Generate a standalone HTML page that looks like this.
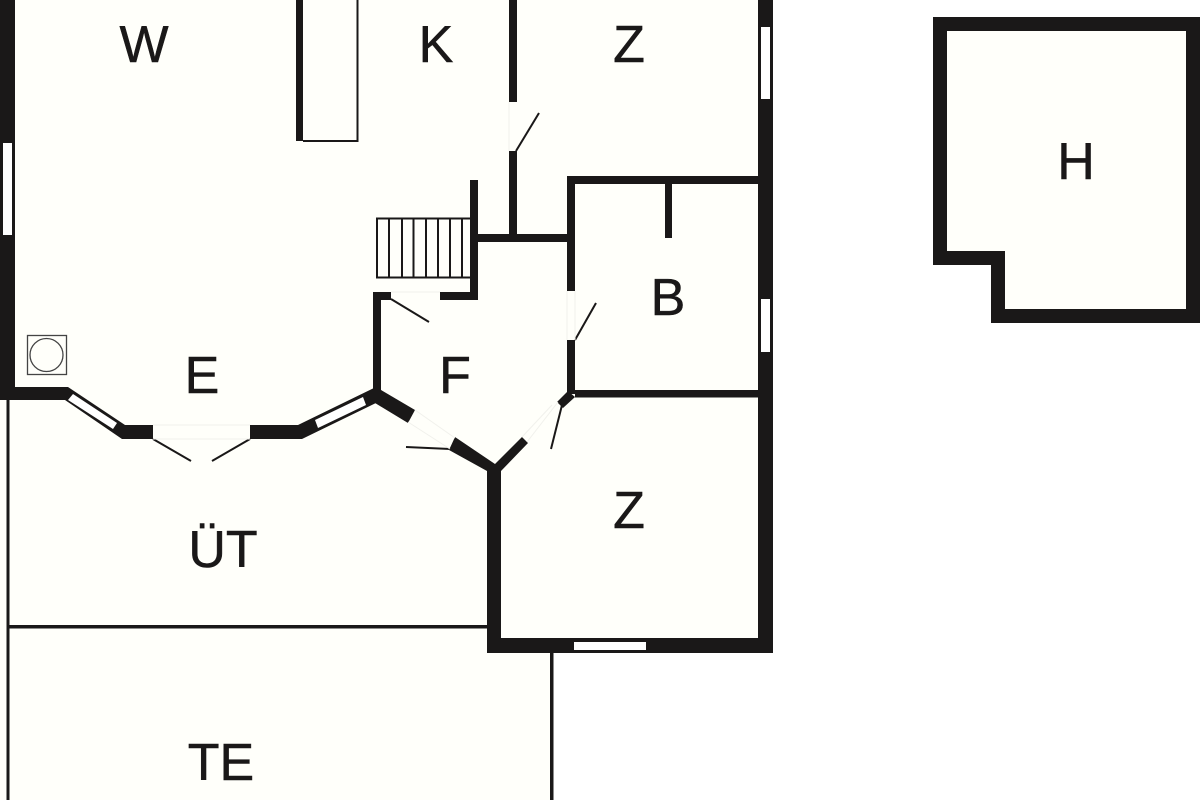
<!DOCTYPE html>
<html>
<head>
<meta charset="utf-8">
<style>
html,body{margin:0;padding:0;background:#fff}
svg{display:block}
text{font-family:"Liberation Sans",sans-serif;font-size:52px;fill:#1a1818;stroke:#1a1818;stroke-width:.5;text-anchor:middle}
</style>
</head>
<body>
<svg width="1200" height="800" viewBox="0 0 1200 800" xmlns="http://www.w3.org/2000/svg">
<rect width="1200" height="800" fill="#fff"/>
<polygon points="0,0 773,0 773,653 553,653 553,800 0,800" fill="#fffffa"/>
<polygon points="933,17 1200,17 1200,323 991,323 991,265 933,265" fill="#fffffa"/>

<g fill="#1a1818">
<rect x="0" y="0" width="15" height="400"/>
<polygon points="0,387 68,387 125,425 153,425 153,439 122,439 65,400 0,400"/>
<polygon points="250,425 298,425 376,387 381,392 378,402 302,439 250,439"/>
<polygon points="376,387 415,410 408,423 375,403"/>
<rect x="373" y="292" width="8" height="98"/>
<rect x="373" y="292" width="18" height="8"/>
<rect x="440" y="292" width="38" height="8"/>
<rect x="470" y="180" width="8" height="120"/>
<rect x="478" y="234" width="92" height="8"/>
<rect x="509" y="0" width="8" height="102"/>
<rect x="509" y="151" width="8" height="85"/>
<rect x="567" y="176" width="8" height="115"/>
<rect x="567" y="340" width="8" height="54"/>
<rect x="567" y="176" width="195" height="8"/>
<rect x="665" y="184" width="7" height="54"/>
<rect x="575" y="390" width="185" height="7.5"/>
<polygon points="557,402 568,391 575,397 563,408"/>
<rect x="758" y="0" width="15" height="653"/>
<rect x="487" y="467" width="14" height="186"/>
<rect x="487" y="638" width="286" height="15"/>
<polygon points="455,437 495,464 522,437 528,443 501,471 501,476 487,476 487,471 449,450"/>
<rect x="296" y="0" width="7" height="141"/>
<rect x="6.5" y="400" width="3" height="400"/>
<rect x="8" y="625" width="480" height="3.5"/>
<rect x="550" y="652" width="3.5" height="148"/>
<path fill-rule="evenodd" d="M933,17H1200V323H991V265H933ZM947,31V251H1005V309H1186V31Z"/>
</g>

<g fill="#fff">
<rect x="3" y="143" width="9" height="92"/>
<rect x="761" y="27" width="9" height="72"/>
<rect x="761" y="299" width="9" height="53"/>
<rect x="574" y="642" width="72" height="8"/>
<polygon points="73,394 117,423 113,429 68,400"/>
<polygon points="315,420 363,397 366,405 318,428"/>
</g>

<g fill="none" stroke="#1a1818" stroke-width="2">
<path d="M303,141H357.500V0"/>
<rect x="377" y="218.500" width="94" height="59"/>
<path d="M389,218V277M402,218V277M413.500,218V277M426,218V277M438,218V277M450,218V277M462,218V277"/>
</g>
<g fill="none" stroke="#444" stroke-width="1.300">
<rect x="27.500" y="335.500" width="39" height="39"/>
<circle cx="46.500" cy="355" r="16.500"/>
</g>

<g stroke="#1a1818" stroke-width="2" fill="none">
<path d="M153,439L191,461M250,439L212,461"/>
<path d="M391,299L429,322"/>
<path d="M516,151L539,113"/>
<path d="M575,340L596,303"/>
<path d="M562,405L551,449"/>
<path d="M406,447L450,449"/>
</g>
<g stroke="#f1f1ec" stroke-width="1" fill="none">
<path d="M153,425H250M153,439H250"/>
<path d="M391,292H440"/>
<path d="M509,102V151"/>
<path d="M567,291V340M575,291V340"/>
<path d="M415,410L455,438M408,422L450,449"/>
<path d="M527,442L558,402M522,437L552,405"/>
</g>

<text x="144" y="62">W</text>
<text x="436" y="62">K</text>
<text x="629" y="62">Z</text>
<text x="1076" y="179">H</text>
<text x="668" y="315">B</text>
<text x="455" y="393">F</text>
<text x="202" y="393">E</text>
<text x="629" y="528">Z</text>
<text x="223" y="567">ÜT</text>
<text x="221" y="780">TE</text>
</svg>
</body>
</html>
